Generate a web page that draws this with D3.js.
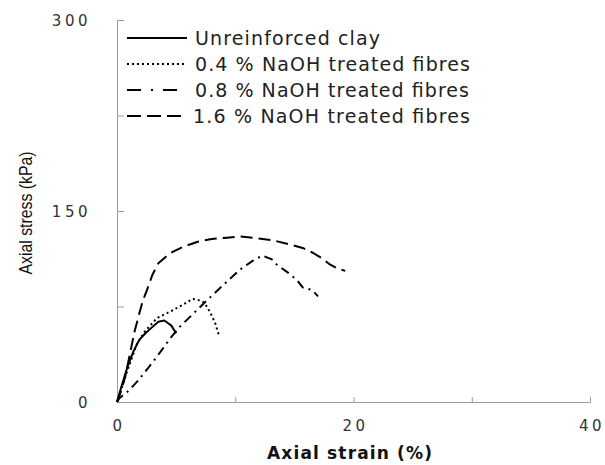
<!DOCTYPE html>
<html><head><meta charset="utf-8">
<script src="https://cdn.jsdelivr.net/npm/d3@7"></script>
<style>body{margin:0;background:#fff}</style>
</head><body>
<svg id="c" width="605" height="465"></svg>
<script>
const seriesNames = ["Unreinforced clay","0.4 % NaOH treated fibres","0.8 % NaOH treated fibres","1.6 % NaOH treated fibres"];
const dashes = [null, "2,3", "9,5,2,5", "12,6"];
const legendDashes = [null, "2,3", "14,10,2,10", "14,6"];
const xTicks = [0,10,20,30,40];
const xLabels = [0,20,40];
const yTicks = [0,75,150,225,300];
const yLabels = [0,150,300];

const clay = [[0,0],[0.4,13],[0.9,28],[1.4,40],[1.9,49],[2.4,54],[3.0,59],[3.5,63],[4.0,64],[4.3,62],[4.6,60],[4.8,57],[5.0,54]];
const f04 = [[0,0],[0.5,14],[1.0,28],[1.7,46],[2.4,56],[3.4,66],[4.5,71],[5.5,76],[6.4,81],[6.9,80],[7.4,78],[7.9,70],[8.3,62],[8.6,53]];
const f08 = [[0,0],[0.2,3],[1.0,9],[1.7,16],[2.4,24],[3.0,31],[3.8,41],[4.5,50],[5.3,59],[6.3,68],[7.4,78],[9.0,92],[10.4,104],[11.5,111],[12.3,115],[13.1,112],[13.5,108],[14.4,102],[15.2,96],[15.7,90],[16.5,88],[17.0,83]];
const f16 = [[0,0],[0.25,6],[0.7,20],[1.1,38],[1.5,56],[1.9,70],[2.2,80],[2.5,87],[3.0,100],[3.5,109],[4.5,117],[5.6,122],[6.9,126],[8.0,128],[9.3,129],[10.4,130],[11.5,129],[13.2,127],[14.9,123],[15.7,121],[16.6,117],[17.3,113],[18.0,108],[18.6,105],[19.3,103]];
const allSeries = [clay, f04, f08, f16];

const svg = d3.select("#c");
const x = d3.scaleLinear().domain([0,40]).range([117,590]);
const y = d3.scaleLinear().domain([0,300]).range([402,20]);

// axes
const gx = svg.append("g").attr("transform","translate(0,"+y(0)+")")
  .call(d3.axisTop(x).tickValues(xTicks).tickSize(5).tickFormat(""));
const gy = svg.append("g").attr("transform","translate("+x(0)+",0)")
  .call(d3.axisRight(y).tickValues(yTicks).tickSize(7).tickFormat(""));
[gx,gy].forEach(g=>{g.selectAll("path,line").attr("stroke","#9a9a9a").attr("stroke-width",1);});

svg.selectAll(".xl").data(xLabels).enter().append("text")
  .attr("x",d=>x(d)+2).attr("y",431).attr("text-anchor","middle")
  .attr("font-family","DejaVu Sans").attr("font-size",15).attr("letter-spacing",3.5).attr("fill","#333")
  .text(d=>d);
svg.selectAll(".yl").data(yLabels).enter().append("text")
  .attr("x",91).attr("y",d=>y(d)+6).attr("text-anchor","end")
  .attr("font-family","DejaVu Sans").attr("font-size",15).attr("letter-spacing",3.5).attr("fill","#333")
  .text(d=>d);

svg.append("text").attr("x",267).attr("y",459)
  .attr("font-family","DejaVu Sans").attr("font-weight","bold").attr("font-size",17).attr("fill","#111")
  .attr("textLength",165).attr("lengthAdjust","spacing")
  .text("Axial strain (%)");
svg.append("text").attr("transform","translate(32,213) rotate(-90)").attr("text-anchor","middle")
  .attr("font-family","Liberation Sans").attr("font-size",19).attr("fill","#111")
  .attr("textLength",123).attr("lengthAdjust","spacingAndGlyphs")
  .text("Axial stress (kPa)");

const line = d3.line().x(d=>x(d[0])).y(d=>y(d[1]));
svg.selectAll(".s").data(allSeries).enter().append("path")
  .attr("d",line).attr("fill","none").attr("stroke","#000").attr("stroke-width",2)
  .attr("stroke-linejoin","round")
  .attr("stroke-dasharray",(d,i)=>dashes[i]);

// legend
const legendLens = [185, 275, 274, 277];
const lg = svg.append("g");
seriesNames.forEach((n,i)=>{
  const yy = 38 + i*26;
  lg.append("line").attr("x1",127).attr("x2",187).attr("y1",yy).attr("y2",yy)
    .attr("stroke","#000").attr("stroke-width",2).attr("stroke-dasharray",legendDashes[i]);
  lg.append("text").attr("x",i===3?193:195).attr("y",yy+7)
    .attr("font-family","DejaVu Sans").attr("font-size",19).attr("fill","#222")
    .attr("textLength",legendLens[i]).attr("lengthAdjust","spacing")
    .text(n);
});
</script>
</body></html>
